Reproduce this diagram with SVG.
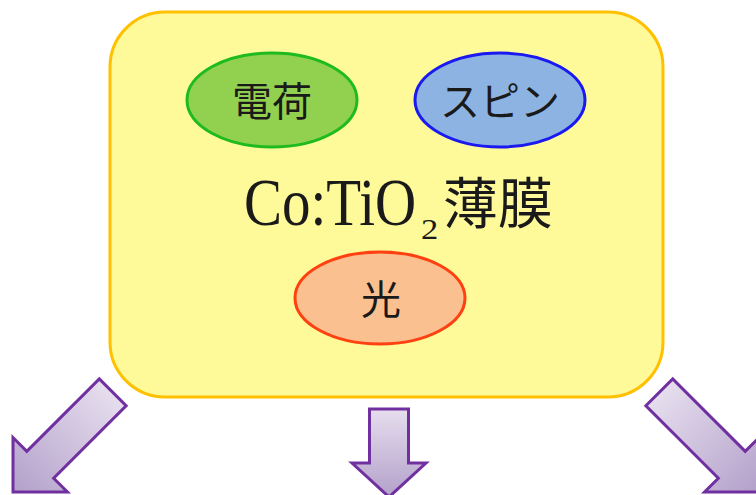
<svg xmlns="http://www.w3.org/2000/svg" width="756" height="495" viewBox="0 0 756 495">
<defs>
<linearGradient id="ag" x1="0" y1="0" x2="0" y2="1">
<stop offset="0" stop-color="#E6DEEE"/>
<stop offset="1" stop-color="#B3A0CA"/>
</linearGradient>
<style>
.arrow{fill:url(#ag);stroke:#7030A0;stroke-width:3;stroke-linejoin:miter}
.jp{font-family:"Noto Sans CJK JP","Noto Sans CJK SC",sans-serif;fill:#1a1a1a}
.lat{font-family:"Liberation Serif",serif;fill:#1a1a1a}
</style>
</defs>
<rect width="756" height="495" fill="#ffffff"/>
<g id="film">
<rect x="110" y="12" width="553" height="385" rx="55" ry="55" fill="#FFFA99" stroke="#FFC000" stroke-width="3"/>
<text class="lat" font-size="57" transform="translate(244,225) scale(1,1.2)">Co:TiO</text>
<text class="lat" font-size="30" transform="translate(421,239) scale(1.15,1)">2</text>
<text class="jp" font-size="55" x="443" y="223">薄膜</text>
</g>
<g id="charge">
<ellipse cx="272" cy="100" rx="85" ry="47" fill="#92D050" stroke="#1DBB1D" stroke-width="3"/>
<text class="jp" font-size="40" x="272" y="116" text-anchor="middle">電荷</text>
</g>
<g id="spin">
<ellipse cx="500" cy="100" rx="85" ry="47" fill="#8DB3E2" stroke="#1A1AF0" stroke-width="3"/>
<text class="jp" font-size="40" x="500" y="116" text-anchor="middle">スピン</text>
</g>
<g id="light">
<ellipse cx="380" cy="298" rx="85" ry="46" fill="#FAC090" stroke="#FF4010" stroke-width="3"/>
<text class="jp" font-size="40" x="381" y="314" text-anchor="middle">光</text>
</g>
<g id="connectors">
<path class="arrow" transform="translate(13,492) rotate(45)" d="M-19,-141 L19,-141 L19,-38.5 L38.5,-38.5 L0,0 L-38.5,-38.5 L-19,-38.5 Z"/>
<path class="arrow" transform="translate(389,497)" d="M-19.5,-88 L19.5,-88 L19.5,-34 L37,-34 L0,0 L-37,-34 L-19.5,-34 Z"/>
<path class="arrow" transform="translate(759,492) rotate(-45)" d="M-19,-141 L19,-141 L19,-38.5 L38.5,-38.5 L0,0 L-38.5,-38.5 L-19,-38.5 Z"/>
</g>
</svg>
